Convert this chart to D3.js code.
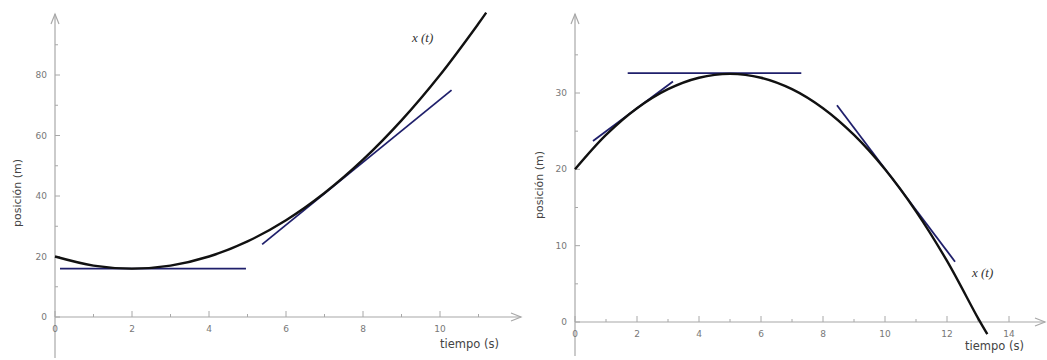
<!DOCTYPE html>
<html><head><meta charset="utf-8">
<script src="https://cdn.jsdelivr.net/npm/d3@7"></script>
<style>body{margin:0;background:#fff}svg{display:block}</style>
</head><body>
<svg id="c" width="1047" height="360"></svg>
<script>
// ---- data ----
const leftT = [0,1,2,3,4,5,6,7,8,9,10,11,11.2];
const leftX = [20,17,16,17,20,25,32,41,52,65,80,97,100.6];
const leftTangents = [
  [[0.13,16],[4.96,16]],
  [[5.38,24],[10.3,75]]
];
const leftXTicks = [0,2,4,6,8,10];
const leftYTicks = [0,20,40,60,80];

const rightT = [0,1,2,3,4,5,6,7,8,9,10,11,12,13,13.3];
const rightX = [20,24.5,28,30.5,32,32.5,32,30.5,28,24.5,20,14.5,8,0.5,-1.6];
const rightTangents = [
  [[0.58,23.7],[3.16,31.5]],
  [[1.7,32.6],[7.3,32.6]],
  [[8.45,28.4],[12.26,7.9]]
];
const rightXTicks = [0,2,4,6,8,10,12,14];
const rightYTicks = [0,10,20,30];

const svg = d3.select("#c");
const axisCol = "#a8a8a8", labCol = "#777";

function panel(o){
  const g = svg.append("g");
  const x = d3.scaleLinear().domain(o.xd).range(o.xr);
  const y = d3.scaleLinear().domain(o.yd).range(o.yr);
  const x0 = x(0), y0 = y(0);
  // axes
  g.append("line").attr("x1",x0).attr("x2",o.xEnd).attr("y1",y0).attr("y2",y0)
    .attr("stroke",axisCol).attr("stroke-width",1.2);
  g.append("line").attr("x1",x0).attr("x2",x0).attr("y1",o.yBottom).attr("y2",o.yTop)
    .attr("stroke",axisCol).attr("stroke-width",1.2);
  // arrow heads
  g.append("path").attr("d",`M${o.xEnd-10},${y0-4}L${o.xEnd},${y0}L${o.xEnd-10},${y0+4}`)
    .attr("fill","none").attr("stroke",axisCol).attr("stroke-width",1.2);
  g.append("path").attr("d",`M${x0-4},${o.yTop+10}L${x0},${o.yTop}L${x0+4},${o.yTop+10}`)
    .attr("fill","none").attr("stroke",axisCol).attr("stroke-width",1.2);
  // x ticks
  const minorX = d3.range(1, o.xMinorMax, 2);
  g.selectAll(null).data(o.xTicks).enter().append("line")
    .attr("x1",d=>x(d)).attr("x2",d=>x(d)).attr("y1",y0).attr("y2",y0-6)
    .attr("stroke",axisCol);
  g.selectAll(null).data(minorX).enter().append("line")
    .attr("x1",d=>x(d)).attr("x2",d=>x(d)).attr("y1",y0).attr("y2",y0-3)
    .attr("stroke",axisCol);
  g.selectAll(null).data(o.xTicks).enter().append("text")
    .attr("x",d=>x(d)).attr("y",y0+o.xLabDy).attr("text-anchor","middle")
    .attr("font-family","DejaVu Sans").attr("font-size",9).attr("fill",labCol)
    .text(d=>d);
  // y ticks
  g.selectAll(null).data(o.yTicks).enter().append("line")
    .attr("x1",x0).attr("x2",x0+5).attr("y1",d=>y(d)).attr("y2",d=>y(d))
    .attr("stroke",axisCol);
  g.selectAll(null).data(o.yMinor).enter().append("line")
    .attr("x1",x0).attr("x2",x0+3).attr("y1",d=>y(d)).attr("y2",d=>y(d))
    .attr("stroke",axisCol);
  g.selectAll(null).data(o.yTicks).enter().append("text")
    .attr("x",x0-8).attr("y",d=>y(d)+3).attr("text-anchor","end")
    .attr("font-family","DejaVu Sans").attr("font-size",9).attr("fill",labCol)
    .text(d=>d);
  // axis titles
  g.append("text").attr("transform",`translate(${o.yTitle[0]},${o.yTitle[1]}) rotate(-90)`)
    .attr("text-anchor","middle").attr("font-family","DejaVu Sans").attr("font-size",11)
    .attr("fill","#444").text("posición (m)");
  g.append("text").attr("x",o.xTitle[0]).attr("y",o.xTitle[1])
    .attr("font-family","DejaVu Sans").attr("font-size",11.5)
    .attr("fill","#444").text("tiempo (s)");
  // tangents
  const line = d3.line().x(d=>x(d[0])).y(d=>y(d[1]));
  g.selectAll(null).data(o.tangents).enter().append("path")
    .attr("d",line).attr("fill","none").attr("stroke","#1f1f6b").attr("stroke-width",1.8);
  // curve
  const pts = o.t.map((t,i)=>[t,o.v[i]]);
  g.append("path").datum(pts).attr("d",line.curve(d3.curveCatmullRom))
    .attr("fill","none").attr("stroke","#111").attr("stroke-width",2.4);
  // curve label
  g.append("text").attr("x",o.lab[0]).attr("y",o.lab[1])
    .attr("font-family","Liberation Serif").attr("font-style","italic").attr("font-size",13)
    .attr("fill","#333").text("x (t)");
}

panel({
  xd:[0,10], xr:[55,440], yd:[0,80], yr:[317,75],
  xEnd:521, yTop:14, yBottom:358, xMinorMax:12,
  xTicks:leftXTicks, yTicks:leftYTicks, yMinor:[10,30,50,70,90],
  xLabDy:15, yTitle:[21,193], xTitle:[440,348],
  tangents:leftTangents, t:leftT, v:leftX, lab:[412,42]
});
panel({
  xd:[0,14], xr:[575,1009], yd:[0,30], yr:[322,93],
  xEnd:1045, yTop:14, yBottom:356, xMinorMax:15,
  xTicks:rightXTicks, yTicks:rightYTicks, yMinor:[5,15,25,35],
  xLabDy:15, yTitle:[543,185], xTitle:[965,350],
  tangents:rightTangents, t:rightT, v:rightX, lab:[972,277]
});
</script>
</body></html>
